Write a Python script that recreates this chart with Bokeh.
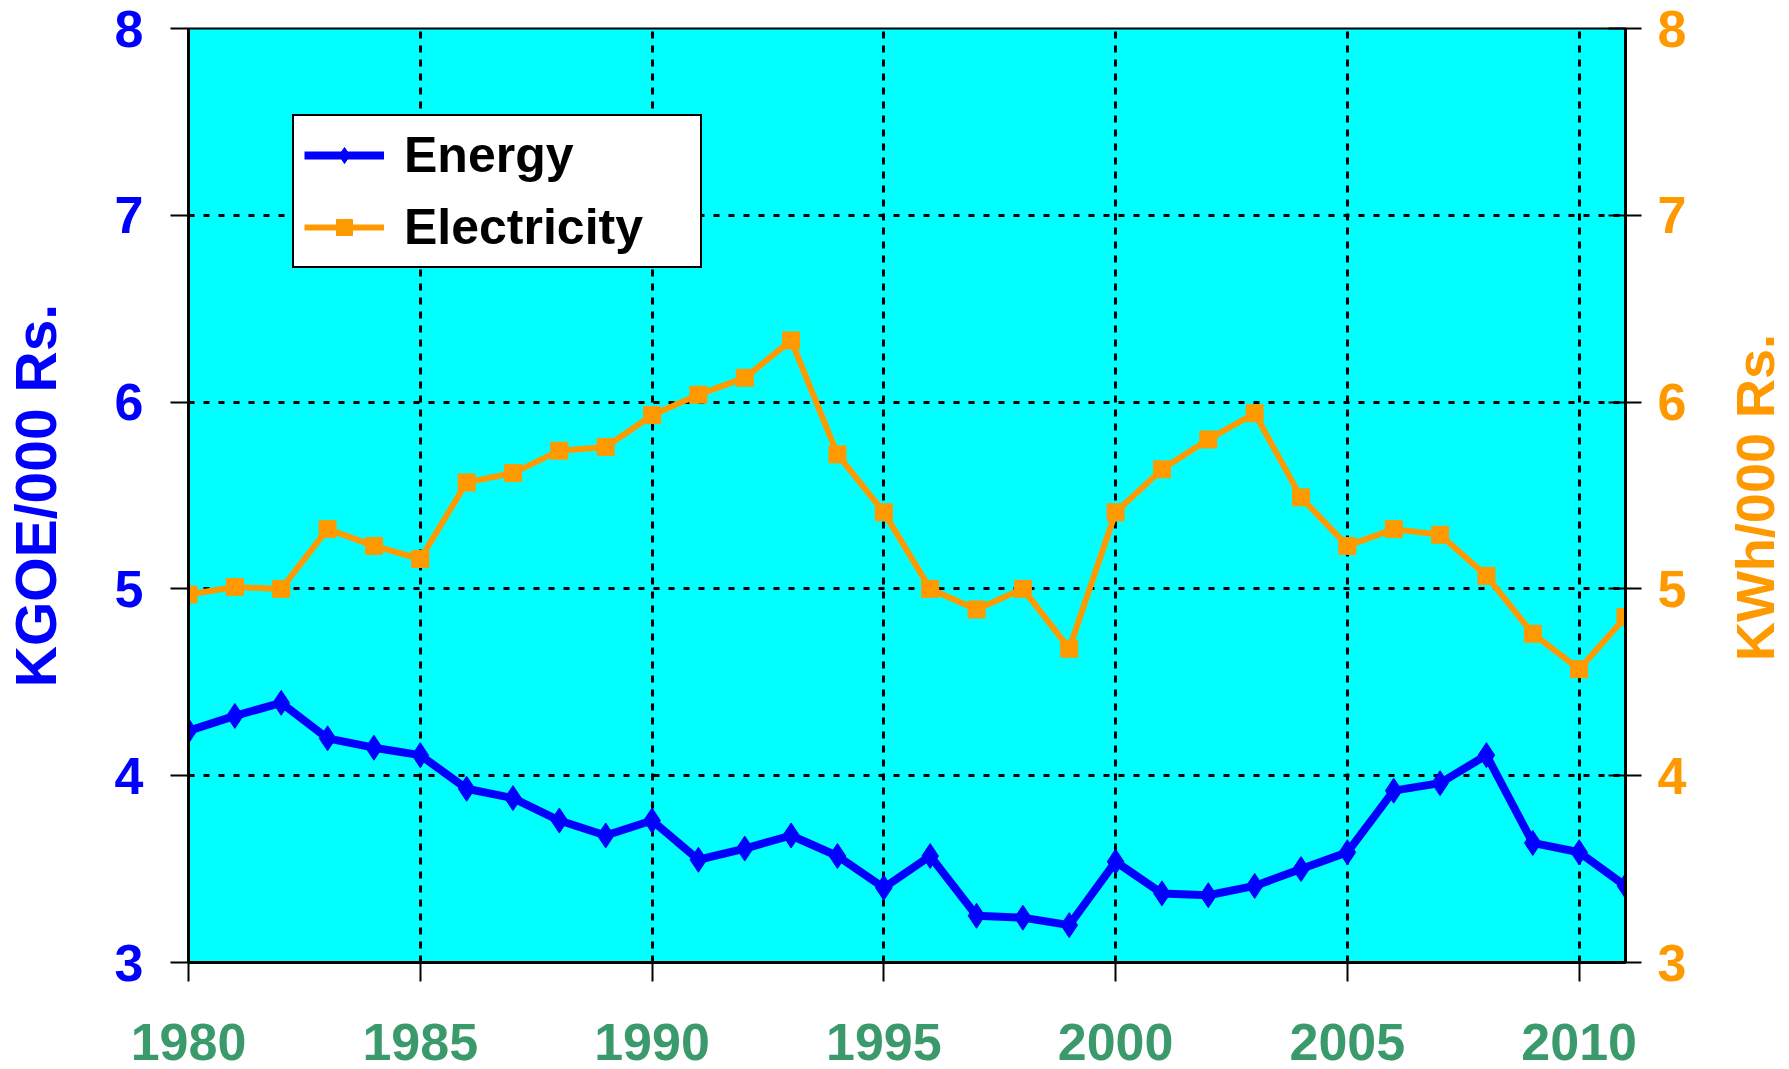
from bokeh.plotting import figure
from bokeh.layouts import row
from bokeh.models import Range1d, LinearAxis, FixedTicker, Legend, LegendItem, Div
from bokeh.embed import file_html
from bokeh.resources import INLINE

years = list(range(1980, 2012))
energy = [4.24, 4.32, 4.39, 4.20, 4.15, 4.11, 3.93, 3.88, 3.76, 3.68,
          3.76, 3.55, 3.61, 3.68, 3.57, 3.40, 3.57, 3.25, 3.24, 3.20,
          3.54, 3.37, 3.36, 3.41, 3.50, 3.59, 3.92, 3.96, 4.11, 3.64,
          3.59, 3.41]
electricity = [4.97, 5.01, 5.00, 5.32, 5.23, 5.16, 5.57, 5.62, 5.74, 5.76,
               5.93, 6.04, 6.13, 6.33, 5.72, 5.41, 5.00, 4.89, 5.00, 4.68,
               5.41, 5.64, 5.80, 5.94, 5.49, 5.23, 5.32, 5.29, 5.07, 4.76,
               4.57, 4.85]
x_ticks = [1980, 1985, 1990, 1995, 2000, 2005, 2010]
y_ticks = [3, 4, 5, 6, 7, 8]
x_min, x_max = 1980, 2011
y_min, y_max = 3, 8
right_title_text = "KWh/000 Rs."

BLUE = "#0000FF"
ORANGE = "#FF9900"
GREEN = "#3A9A6C"
FONT = "Liberation Sans"

p = figure(width=1725, height=1069, output_backend="svg", toolbar_location=None,
           x_range=Range1d(x_min, x_max), y_range=Range1d(y_min, y_max),
           min_border_left=188, min_border_right=100, min_border_top=28,
           min_border_bottom=107)
p.extra_y_ranges = {"right": Range1d(y_min, y_max)}

p.background_fill_color = "#00FFFF"
p.border_fill_color = "white"
p.outline_line_color = "black"
p.outline_line_width = 2

xa = p.xaxis[0]
xa.ticker = FixedTicker(ticks=x_ticks)
xa.minor_tick_line_color = None
xa.major_tick_in = 0
xa.major_tick_out = 19
xa.major_tick_line_width = 2
xa.axis_line_width = 3
xa.major_label_text_font = FONT
xa.major_label_text_font_style = "bold"
xa.major_label_text_font_size = "52px"
xa.major_label_text_color = GREEN
xa.major_label_standoff = 42

ya = p.yaxis[0]
ya.ticker = FixedTicker(ticks=y_ticks)
ya.minor_tick_line_color = None
ya.major_tick_in = 0
ya.major_tick_out = 18
ya.major_tick_line_width = 2
ya.axis_line_width = 3
ya.major_label_text_font = FONT
ya.major_label_text_font_style = "bold"
ya.major_label_text_font_size = "52px"
ya.major_label_text_color = BLUE
ya.major_label_standoff = 27
ya.axis_label = "KGOE/000 Rs."
ya.axis_label_text_font = FONT
ya.axis_label_text_font_style = "bold"
ya.axis_label_text_font_size = "57px"
ya.axis_label_text_color = BLUE
ya.axis_label_standoff = 44

ra = LinearAxis(y_range_name="right", ticker=FixedTicker(ticks=y_ticks))
ra.minor_tick_line_color = None
ra.major_tick_in = 17
ra.major_tick_out = 16
ra.major_tick_line_width = 2
ra.axis_line_width = 3
ra.major_label_text_font = FONT
ra.major_label_text_font_style = "bold"
ra.major_label_text_font_size = "52px"
ra.major_label_text_color = ORANGE
ra.major_label_standoff = 16
p.add_layout(ra, "right")

p.xgrid.ticker = FixedTicker(ticks=x_ticks)
p.xgrid.grid_line_color = "black"
p.xgrid.grid_line_width = 3
p.xgrid.grid_line_dash = "7 7"
p.ygrid.ticker = FixedTicker(ticks=y_ticks)
p.ygrid.grid_line_color = "black"
p.ygrid.grid_line_width = 3
p.ygrid.grid_line_dash = "6 9"

e_line = p.line(years, energy, line_color=BLUE, line_width=8)
e_mark = p.scatter(years, energy, marker="diamond", size=25, fill_color=BLUE,
                   line_color=BLUE)
el_line = p.line(years, electricity, line_color=ORANGE, line_width=6,
                 y_range_name="right")
el_mark = p.scatter(years, electricity, marker="square", size=17,
                    fill_color=ORANGE, line_color=ORANGE, y_range_name="right")

legend = Legend(items=[LegendItem(label="Energy", renderers=[e_line, e_mark]),
                       LegendItem(label="Electricity", renderers=[el_line, el_mark])],
                location=(104, 694), margin=0, padding=10, spacing=14,
                glyph_width=80, glyph_height=40, label_standoff=20,
                label_width=286,
                label_text_font=FONT, label_text_font_style="bold",
                label_text_font_size="50px", label_text_color="black",
                border_line_color="black", border_line_width=2,
                border_line_alpha=1.0,
                background_fill_color="white", background_fill_alpha=1.0)
p.add_layout(legend, "center")

# right-hand axis title, reading upward like the reference
right_title = Div(
    text=('<div style="height:986px; width:50px; display:flex; '
          'align-items:center; justify-content:center;">'
          '<span style="writing-mode:vertical-rl; transform:rotate(180deg); '
          "white-space:nowrap; font-family:'Liberation Sans'; font-weight:bold; "
          'font-size:54px; color:%s; line-height:1;">%s</span></div>'
          % (ORANGE, right_title_text)),
    width=64, height=1069)

layout = row(p, right_title, spacing=0)

open("out.html", "w").write(file_html(layout, INLINE))
